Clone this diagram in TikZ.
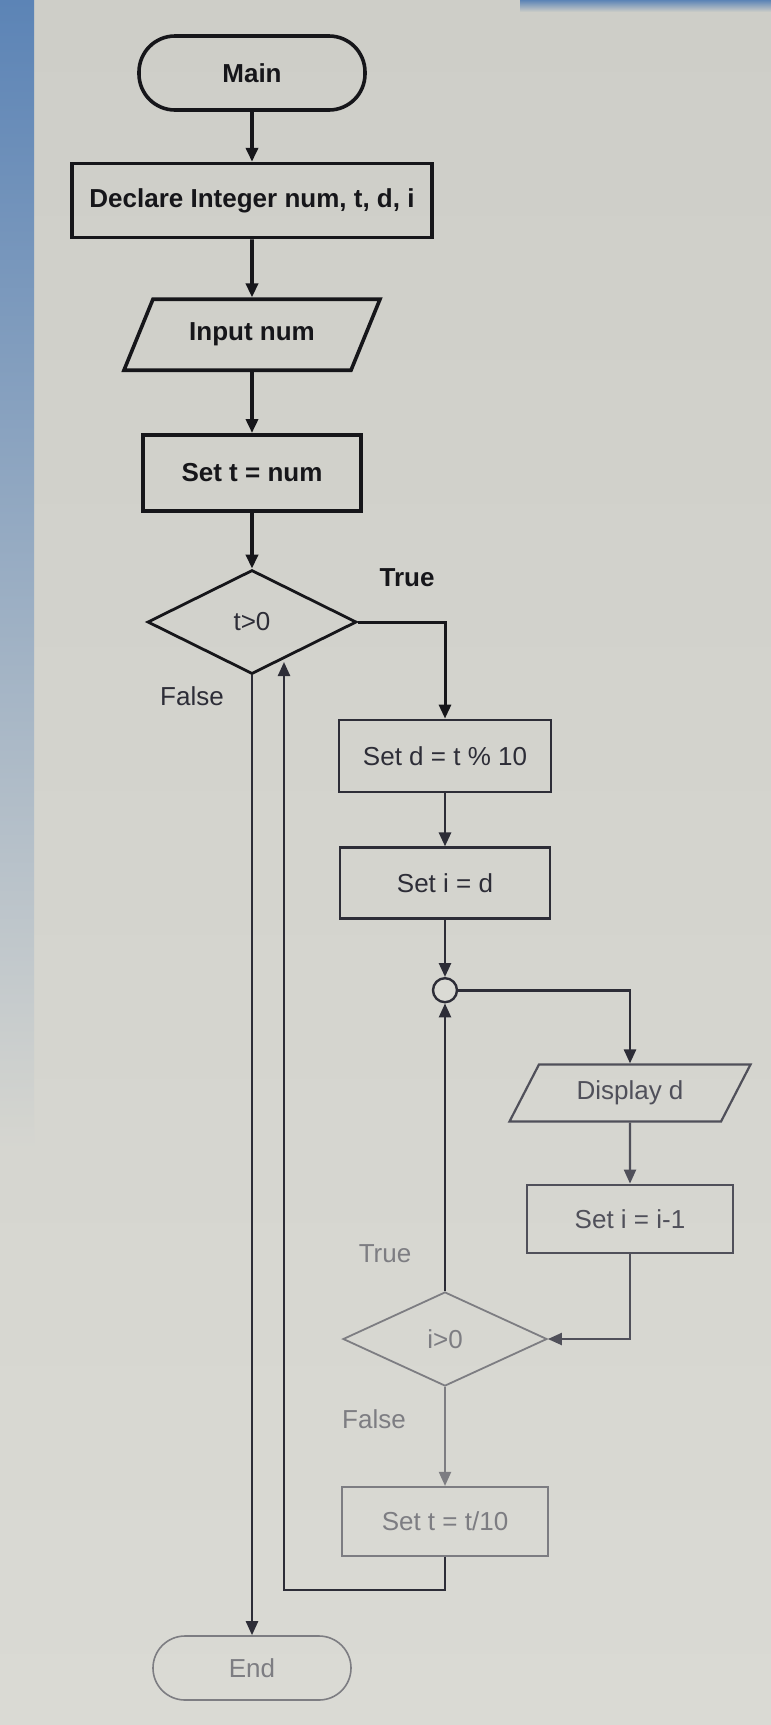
\documentclass[tikz,border=0pt]{standalone}
\usepackage{fontspec}
\setmainfont{Liberation Sans}
\usepackage{xcolor}
\usepackage{tikz}
\usetikzlibrary{arrows.meta,positioning,shapes.geometric}

\definecolor{screen}{RGB}{206,206,200}
\definecolor{screenlt}{RGB}{218,218,212}
\definecolor{bezel}{RGB}{92,132,182}
\definecolor{inkA}{RGB}{22,22,26}
\definecolor{inkB}{RGB}{45,45,55}
\definecolor{inkC}{RGB}{80,80,90}
\definecolor{inkD}{RGB}{125,125,130}

\begin{document}
\begin{tikzpicture}[
 x=0.5pt, y=-0.5pt,
 font=\fontsize{13pt}{15pt}\selectfont, node distance=0pt,
 >={Triangle[length=7pt,width=6pt]},
 termbox/.style={rectangle, rounded corners=18pt, draw=#1, text=#1,
 minimum width=113pt, minimum height=37pt, inner sep=2pt},
 procbox/.style={rectangle, draw=#1, text=#1, minimum height=36pt, inner sep=3pt},
 iobox/.style={trapezium, trapezium stretches=true, trapezium left angle=58,
 trapezium right angle=122, draw=#1, text=#1, inner sep=2pt},
 decbox/.style={diamond, draw=#1, text=#1, inner sep=0pt},
 joint/.style={circle, draw=#1, fill=screenlt, minimum size=12pt, inner sep=0pt},
 lbl/.style={text=#1, inner sep=1pt},
 heavy/.style={line width=1.8pt, font=\fontsize{13pt}{15pt}\selectfont\bfseries},
 flow/.style={->, draw=#1},
]
\useasboundingbox (0,0) rectangle (771,1725);
% screen photo background
\shade[top color=screen, bottom color=screenlt] (0,0) rectangle (771,1725);
\shade[top color=bezel, bottom color=screenlt!67!screen] (0,0) rectangle (34,1150);
\shade[top color=bezel, bottom color=screen] (520,0) rectangle (771,12);

% main column
\node[termbox=inkA, heavy] (main) at (252,73) {Main};
\node[procbox=inkA, heavy, minimum width=180pt, minimum height=37pt, below=25pt of main] (dcl) {Declare Integer num, t, d, i};
\node[iobox=inkA, heavy, minimum width=129pt, minimum height=35.5pt, below=29pt of dcl] (inp) {Input num};
\node[procbox=inkA, heavy, minimum width=109pt, minimum height=38pt, below=30.5pt of inp] (sett) {Set t = num};
\node[decbox=inkA, line width=1.4pt, text=inkB, minimum width=104.5pt, minimum height=52pt, below=28pt of sett] (tchk) {t>0};

% loop body
\node[procbox=inkB, line width=1.4pt, minimum width=106pt, minimum height=36pt] (setd) at (445,756) {Set d = t \% 10};
\node[procbox=inkB, line width=1.3pt, minimum width=105pt, minimum height=35.5pt, below=26.5pt of setd] (seti) {Set i = d};
\node[joint=inkB, line width=1.2pt, below=28.5pt of seti] (jn) {};
\node[iobox=inkC, line width=1.1pt, trapezium left angle=60, trapezium right angle=120,
 minimum width=121pt, minimum height=28.5pt] (disp) at (630,1093) {Display d};
\node[procbox=inkC, line width=1.1pt, minimum width=103pt, minimum height=34pt, below=30.5pt of disp] (deci) {Set i = i-1};
\node[decbox=inkD, line width=0.9pt, minimum width=102pt, minimum height=47pt] (ichk) at (445,1339) {i>0};
\node[procbox=inkD, line width=0.8pt, minimum width=103pt, minimum height=34.5pt, below=49.5pt of ichk] (tdiv) {Set t = t/10};
\node[termbox=inkD, line width=0.8pt, rounded corners=16pt, minimum width=99pt, minimum height=32pt] (endn) at (252,1668) {End};

% branch labels
\node[lbl=inkA, font=\fontsize{13pt}{15pt}\selectfont\bfseries] (ttrue) at (407,578) {True};
\node[lbl=inkB] (tfalse) at (192,696) {False};
\node[lbl=inkD] (itrue) at (385,1254) {True};
\node[lbl=inkD] (ifalse) at (374,1419) {False};

\coordinate (loopc) at (284,1590);
\coordinate (back) at (284,662);

\draw[flow=inkA, line width=1.8pt] (main) -- (dcl);
\draw[flow=inkA, line width=1.8pt] (dcl) -- (inp);
\draw[flow=inkA, line width=1.8pt] (inp) -- (sett);
\draw[flow=inkA, line width=1.8pt] (sett) -- (tchk);
\draw[flow=inkA, line width=1.5pt] (tchk.east) -| (setd.north);
\draw[flow=inkB, line width=1.4pt] (setd) -- (seti);
\draw[flow=inkB, line width=1.3pt] (seti) -- (jn);
\draw[flow=inkB, line width=1.3pt] (jn.east) -| (disp.north);
\draw[flow=inkC, line width=1.1pt] (disp) -- (deci);
\draw[flow=inkC, line width=1.1pt] (deci.south) |- (ichk.east);
\draw[flow=inkB, line width=1.2pt] (ichk.north) -- (jn.south);
\draw[flow=inkD, line width=1pt] (ichk.south) -- (tdiv.north);
\draw[flow=inkB, line width=1.2pt] (tdiv.south) |- (loopc) -- (back);
\draw[flow=inkB, line width=1.2pt] (tchk.south) -- (endn.north);
\end{tikzpicture}
\end{document}
